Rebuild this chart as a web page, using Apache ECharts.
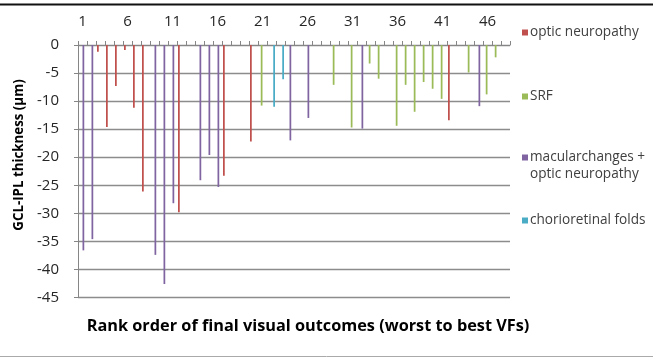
<!DOCTYPE html>
<html>
<head>
<meta charset="utf-8">
<script src="https://cdn.jsdelivr.net/npm/echarts@6/dist/echarts.min.js"></script>
<style>
html,body{margin:0;padding:0;background:#fff;}
#c{width:658px;height:358px;}
</style>
</head>
<body>
<div id="c"></div>
<script>
// Rank order categories 1..48
var categories = [];
for (var i = 1; i <= 48; i++) categories.push(String(i));

var seriesNames = ['optic neuropathy', 'SRF', 'macularchanges + optic neuropathy', 'chorioretinal folds'];

// GCL-IPL thickness change (µm), null = no patient of that group at the rank
var opticNeuropathy = [null,null,-1.2,-14.6,-7.3,-0.9,-11.2,-26.1,null,null,null,-29.8,null,null,null,null,-23.3,null,null,-17.2,null,null,null,null,null,null,null,null,null,null,null,null,null,null,null,null,null,null,null,null,null,-13.4,null,null,null,null,null,null];
var srf = [null,null,null,null,null,null,null,null,null,null,null,null,null,null,null,null,null,null,null,null,-10.8,null,null,null,null,null,null,null,-7.1,null,-14.7,null,-3.3,-6.0,null,-14.4,-7.1,-11.9,-6.6,-7.8,-9.6,null,null,-4.9,null,-8.8,-2.2,null];
var macularOptic = [-36.6,-34.6,null,null,null,null,null,null,-37.4,-42.6,-28.2,null,null,-24.1,-19.6,-25.3,null,null,null,null,null,null,null,-17.0,null,-13.0,null,null,null,null,null,-14.9,null,null,null,null,null,null,null,null,null,null,null,null,-10.9,null,null,null];
var chorioretinal = [null,null,null,null,null,null,null,null,null,null,null,null,null,null,null,null,null,null,null,null,null,-11.0,-6.1,null,null,null,null,null,null,null,null,null,null,null,null,null,null,null,null,null,null,null,null,null,null,null,null,null];

var colors = ['#C0504D', '#9BBB59', '#8064A2', '#4BACC6'];
var seriesData = [opticNeuropathy, srf, macularOptic, chorioretinal];

var FONT = '"Open Sans", "Noto Sans", sans-serif';
var chart = echarts.init(document.getElementById('c'), null, {renderer: 'canvas'});

var series = seriesData.map(function (d, k) {
  return {
    name: seriesNames[k],
    type: 'bar',
    data: d,
    barWidth: 1.75,
    barGap: '0%',
    itemStyle: {color: colors[k]},
    animation: false
  };
});

function legendAt(k, top, fmt) {
  var l = {
    orient: 'vertical',
    left: 522,
    top: top,
    padding: 0,
    itemWidth: 6,
    itemHeight: 6,
    itemGap: 0,
    icon: 'rect',
    data: [seriesNames[k]],
    textStyle: {fontFamily: FONT, fontSize: 13.6, color: '#404040', lineHeight: 17, padding: [0, 0, 0, -3]},
    selectedMode: false
  };
  if (fmt) l.formatter = fmt;
  return l;
}

chart.setOption({
  animation: false,
  color: colors,
  grid: {left: 78, right: 148, top: 45, bottom: 60.5, containLabel: false},
  legend: [
    legendAt(0, 24),
    legendAt(1, 88),
    legendAt(2, 132, function () { return '\nmacularchanges +\noptic neuropathy'; }),
    legendAt(3, 212)
  ],
  xAxis: {
    type: 'category',
    data: categories,
    position: 'top',
    axisLine: {show: true, onZero: true, lineStyle: {color: '#868686', width: 1}},
    axisTick: {show: true, interval: 0, length: 4, lineStyle: {color: '#868686'}},
    axisLabel: {interval: 4, margin: 16, fontFamily: FONT, fontSize: 15, color: '#262626'},
    splitLine: {show: false}
  },
  yAxis: {
    type: 'value',
    min: -45,
    max: 0,
    interval: 5,
    axisLine: {show: true, lineStyle: {color: '#868686', width: 1}},
    axisTick: {show: true, length: 4, lineStyle: {color: '#868686'}},
    axisLabel: {margin: 19, fontFamily: FONT, fontSize: 15, color: '#262626'},
    splitLine: {show: true, lineStyle: {color: '#8c8c8c', width: 1.3}}
  },
  series: series,
  graphic: [
    {type: 'line', shape: {x1: 0, y1: 4.5, x2: 653, y2: 4.5}, style: {stroke: '#111', lineWidth: 2}, silent: true},
    {type: 'line', shape: {x1: 0, y1: 356.5, x2: 653, y2: 356.5}, style: {stroke: '#aaa', lineWidth: 1}, silent: true},
    {type: 'text', x: 308, y: 326, style: {text: 'Rank order of final visual outcomes (worst to best VFs)', fontFamily: FONT, fontWeight: 'bold', fontSize: 16.3, fill: '#000', textAlign: 'center', textVerticalAlign: 'middle'}},
    {type: 'text', x: 19, y: 155, rotation: Math.PI / 2, style: {text: 'GCL-IPL thickness (µm)', fontFamily: FONT, fontWeight: 'bold', fontSize: 13.3, fill: '#000', textAlign: 'center', textVerticalAlign: 'middle'}}
  ]
});
</script>
</body>
</html>
